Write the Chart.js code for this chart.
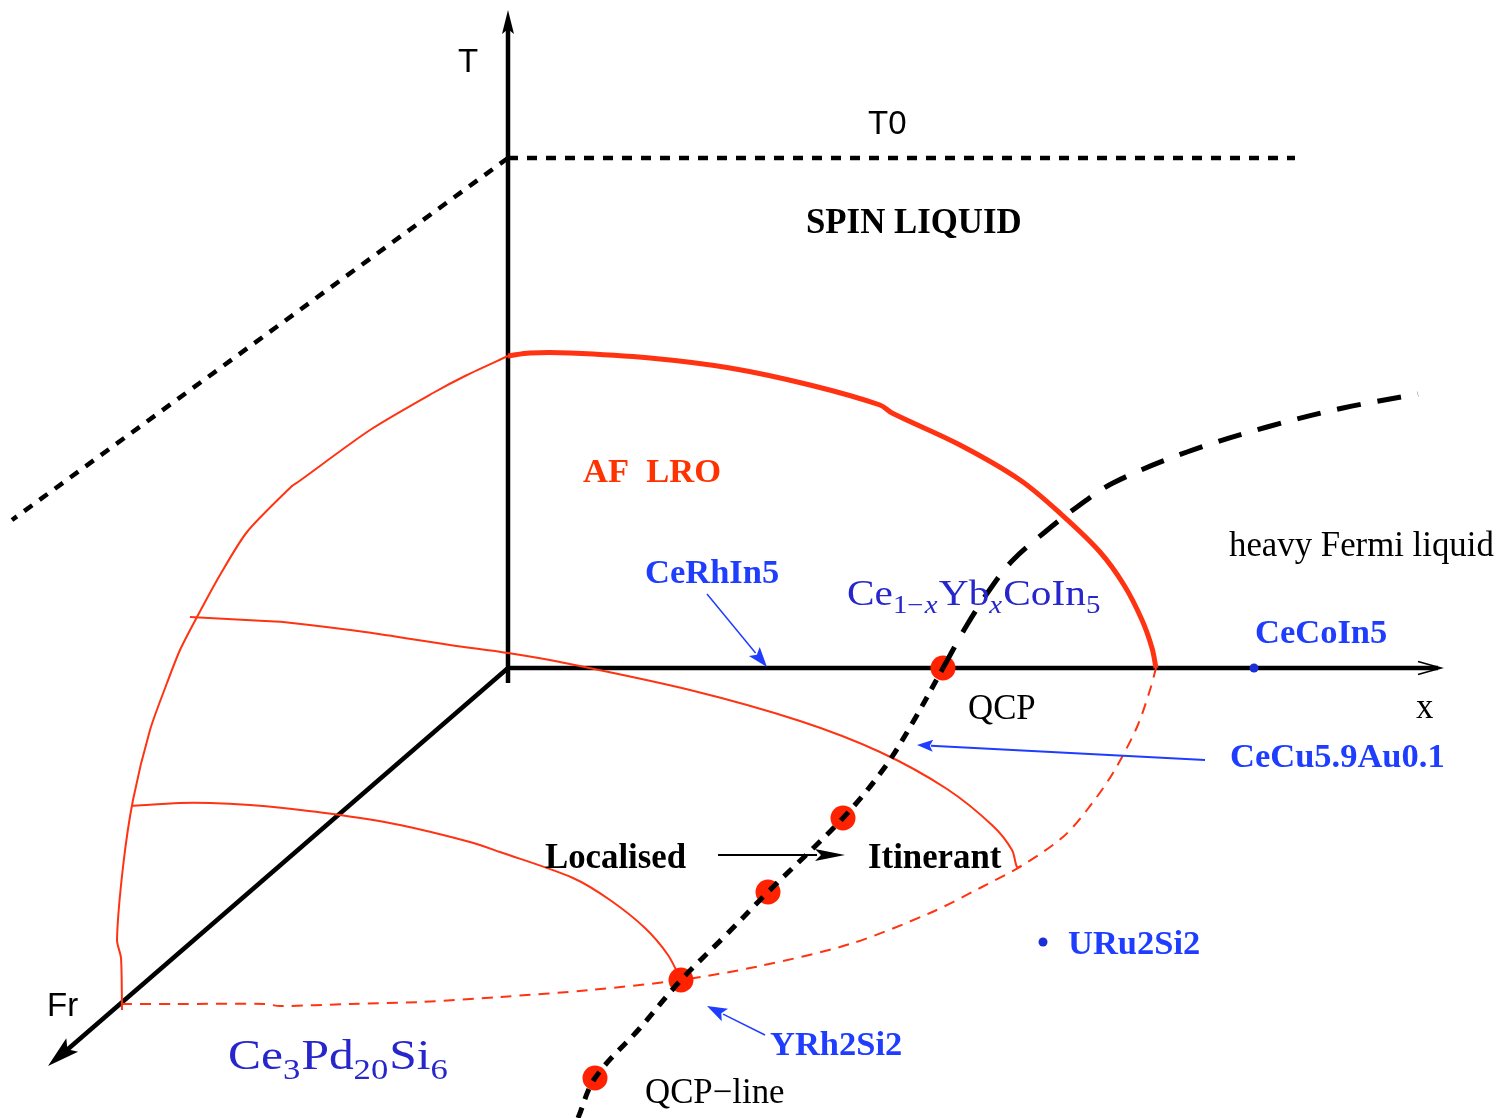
<!DOCTYPE html>
<html>
<head>
<meta charset="utf-8">
<script src="https://cdn.jsdelivr.net/npm/chart.js@4/dist/chart.umd.min.js"></script>
<style>
  html, body { margin: 0; padding: 0; background: #ffffff; }
  canvas { display: block; }
</style>
</head>
<body>
<canvas id="diagram" width="1498" height="1118"></canvas>
<script>
// Schematic plane coordinates: h runs left to right, v runs top to bottom.

// Axes: T (up), x (right), Fr (towards the viewer, lower left)
const axisT  = [[508, 683], [508, 22]];
const axisX  = [[508, 668], [1438, 668]];
const axisFr = [[508, 668], [60, 1056]];

// T0 crossover plane (dotted)
const t0Line     = [[508, 158], [1295, 158]];
const t0Diagonal = [[508, 158], [12, 520]];

// QCP line: below the x axis (fine dashes) and its continuation above it
const qcpLineLower = [[578, 1118], [595, 1078], [640, 1028], [681, 980], [725, 936], [768, 892],
                      [843, 818], [885, 767], [913, 722], [943, 668]];
const qcpLineUpper = [[943, 668], [967, 625], [993, 585], [1013, 560], [1045, 532], [1077, 507],
                      [1113, 483], [1187, 452], [1267, 427], [1343, 408], [1418, 394]];

// Quantum critical points along the QCP line
const qcpPoints = [[943, 668], [843, 818], [768, 892], [681, 980], [595, 1078]];

// AF long-range-order boundary in the T-x plane (heavy line)
const afTopBoundary = [[508, 356], [530, 353], [570, 353], [650, 358], [730, 368], [810, 385],
                       [880, 405], [892, 413], [960, 445], [1020, 480], [1062, 515], [1100, 552],
                       [1124, 585], [1142, 620], [1152, 648], [1156, 668]];

// AF boundary in the T-Fr plane
const afSideBoundary = [[508, 356], [467, 375], [433, 393], [370, 430], [298, 482], [292, 486],
                        [247, 532], [220, 575], [197, 617], [180, 650], [167, 683], [150, 730],
                        [133, 800], [123, 867], [117, 940], [121, 958], [122, 1010]];

// Constant-Fr cuts of the AF dome
const afCutUpper = [[190, 617], [265, 621], [283, 622], [365, 632], [450, 645], [508, 653],
                    [560, 662], [690, 690], [800, 721], [880, 752], [947, 789], [993, 826],
                    [1012, 850], [1017, 867], [1021, 866]];
const afCutLower = [[131, 806], [180, 803], [210, 803], [250, 805], [283, 808], [340, 815],
                    [400, 825], [470, 842], [500, 852], [573, 878], [610, 900], [645, 928],
                    [668, 955], [681, 980]];

// AF boundary at T = 0 in the x-Fr plane (dashed)
const afBaseBoundary = [[121, 1004], [175, 1004], [265, 1004], [280, 1006], [350, 1004],
                        [420, 1002], [500, 997], [590, 990], [681, 980], [760, 966], [850, 944],
                        [930, 913], [980, 888], [1023, 865], [1063, 837], [1087, 810],
                        [1113, 773], [1137, 727], [1150, 690], [1156, 668]];

// Compounds placed as single points
const compoundDots = [[1254, 668], [1043, 942]];

// Pointer arrows: [from, to]
const arrowCeRhIn5  = [[707, 594], [767, 667]];
const arrowCeCuAu   = [[1205, 760], [917, 745]];
const arrowYRh2Si2  = [[765, 1035], [707, 1006]];
const arrowCrossing = [[718, 855], [845, 855]];

// Labels: [text, h, v]
const blueBoldLabels = [
  ['CeRhIn5', 645, 583],
  ['CeCoIn5', 1255, 643],
  ['CeCu5.9Au0.1', 1230, 767],
  ['URu2Si2', 1068, 954],
  ['YRh2Si2', 770, 1055]
];
const blackBoldLabels = [
  ['SPIN LIQUID', 806, 233],
  ['Localised', 545, 868],
  ['Itinerant', 868, 868]
];
const redBoldLabels = [['AF  LRO', 583, 482]];
const serifLabels = [
  ['heavy Fermi liquid', 1229, 556],
  ['QCP', 968, 719],
  ['x', 1416, 718],
  ['QCP\u2212line', 645, 1103]
];
const sansLabels = [
  ['T', 458, 72],
  ['T0', 868, 134],
  ['Fr', 47, 1016]
];
// Chemical formulas with subscripts: pieces of [text, style] (n normal, s subscript, si italic subscript)
const formulaCeYb = [['Ce', 'n'], ['1\u2212', 's'], ['x', 'si'], ['Yb', 'n'], ['x', 'si'], ['CoIn', 'n'], ['5', 's']];
const formulaCePd = [['Ce', 'n'], ['3', 's'], ['Pd', 'n'], ['20', 's'], ['Si', 'n'], ['6', 's']];
// [pieces, h, v, font size, horizontal stretch]
const formulaPlacement = [[formulaCeYb, 847, 605, 35, 1.18], [formulaCePd, 228, 1069, 43, 1.15]];

const RED = '#ff3311';
const BLUE = '#1f3dff';
const DEEP_BLUE = '#2626cc';
const SERIF = '"Liberation Serif", "Times New Roman", serif';
const SANS = '"Liberation Sans", Arial, sans-serif';

const pts = arr => arr.map(([x, y]) => ({ x, y }));

function lineSet(arr, color, width, dash, order, tension) {
  return {
    data: pts(arr),
    showLine: true,
    borderColor: color,
    borderWidth: width,
    borderDash: dash || [],
    borderCapStyle: 'butt',
    pointRadius: 0,
    tension: tension === undefined ? 0.35 : tension,
    fill: false,
    clip: false,
    order: order
  };
}

const datasets = [
  lineSet(qcpLineLower, '#000000', 5, [11, 9], 0),
  lineSet(qcpLineUpper, '#000000', 5, [24, 17], 0),
  {
    data: pts(qcpPoints),
    showLine: false,
    pointRadius: 12.5,
    pointBackgroundColor: '#ff2200',
    pointBorderWidth: 0,
    clip: false,
    order: 1
  },
  {
    data: pts(compoundDots),
    showLine: false,
    pointRadius: 4.5,
    pointBackgroundColor: '#1a2fd6',
    pointBorderWidth: 0,
    clip: false,
    order: 1
  },
  lineSet(afTopBoundary, RED, 5, null, 2),
  lineSet(afSideBoundary, RED, 2, null, 2, 0.25),
  lineSet(afCutUpper, RED, 2, null, 2, 0.3),
  lineSet(afCutLower, RED, 2, null, 2, 0.3),
  lineSet(afBaseBoundary, RED, 2, [11, 8], 2, 0.3),
  lineSet(axisT, '#000000', 4.5, null, 3, 0),
  lineSet(axisX, '#000000', 4.5, null, 3, 0),
  lineSet(axisFr, '#000000', 4.5, null, 3, 0),
  lineSet(t0Line, '#000000', 4.5, [10, 9], 3, 0),
  lineSet(t0Diagonal, '#000000', 4.5, [10, 9], 3, 0)
];

function toPx(chart, [h, v]) {
  return [chart.scales.x.getPixelForValue(h), chart.scales.y.getPixelForValue(v)];
}

function drawArrow(ctx, chart, seg, color, width, headLen, headHalf, drawShaft) {
  const [a, b] = [toPx(chart, seg[0]), toPx(chart, seg[1])];
  const ang = Math.atan2(b[1] - a[1], b[0] - a[0]);
  const ux = Math.cos(ang), uy = Math.sin(ang);
  const bx = b[0] - ux * headLen, by = b[1] - uy * headLen;
  ctx.save();
  ctx.strokeStyle = color;
  ctx.fillStyle = color;
  if (drawShaft) {
    ctx.lineWidth = width;
    ctx.beginPath();
    ctx.moveTo(a[0], a[1]);
    ctx.lineTo(bx + ux * 2, by + uy * 2);
    ctx.stroke();
  }
  ctx.beginPath();
  ctx.moveTo(b[0], b[1]);
  ctx.lineTo(bx - uy * headHalf, by + ux * headHalf);
  ctx.lineTo(b[0] - ux * headLen * 0.8, b[1] - uy * headLen * 0.8);
  ctx.lineTo(bx + uy * headHalf, by - ux * headHalf);
  ctx.closePath();
  ctx.fill();
  ctx.restore();
}

function drawOpenHead(ctx, chart, seg, color, width, headLen, headHalf) {
  const [a, b] = [toPx(chart, seg[0]), toPx(chart, seg[1])];
  const ang = Math.atan2(b[1] - a[1], b[0] - a[0]);
  const ux = Math.cos(ang), uy = Math.sin(ang);
  const bx = b[0] - ux * headLen, by = b[1] - uy * headLen;
  ctx.save();
  ctx.strokeStyle = color;
  ctx.lineWidth = width;
  ctx.beginPath();
  ctx.moveTo(bx - uy * headHalf, by + ux * headHalf);
  ctx.lineTo(b[0], b[1]);
  ctx.lineTo(bx + uy * headHalf, by - ux * headHalf);
  ctx.moveTo(a[0], a[1]);
  ctx.lineTo(b[0], b[1]);
  ctx.stroke();
  ctx.restore();
}

function drawLabels(ctx, chart, list, font, color) {
  ctx.save();
  ctx.font = font;
  ctx.fillStyle = color;
  ctx.textBaseline = 'alphabetic';
  ctx.textAlign = 'left';
  for (const [text, h, v] of list) {
    const [px, py] = toPx(chart, [h, v]);
    ctx.fillText(text, px, py);
  }
  ctx.restore();
}

function drawFormula(ctx, chart, pieces, h, v, size, stretch, color) {
  const [ox, oy] = toPx(chart, [h, v]);
  ctx.save();
  ctx.translate(ox, oy);
  ctx.scale(stretch, 1);
  ctx.fillStyle = color;
  ctx.textBaseline = 'alphabetic';
  let px = 0;
  for (const [text, style] of pieces) {
    const sub = style !== 'n';
    const fs = sub ? size * 0.7 : size;
    ctx.font = (style === 'si' ? 'italic ' : '') + fs + 'px ' + SERIF;
    const dy = sub ? size * 0.24 : 0;
    ctx.fillText(text, px, dy);
    px += ctx.measureText(text).width + (sub ? 1 : 0);
  }
  ctx.restore();
}

const annotations = {
  id: 'annotations',
  afterDatasetsDraw(chart) {
    const ctx = chart.ctx;
    // axis heads
    drawArrow(ctx, chart, [[508, 60], [508, 10]], '#000000', 0, 24, 6, false);
    drawOpenHead(ctx, chart, [[1400, 668], [1441, 668]], '#000000', 1.6, 23, 6.5);
    drawArrow(ctx, chart, [axisFr[0], [48, 1066]], '#000000', 0, 32, 9, false);
    // pointer arrows
    drawArrow(ctx, chart, arrowCeRhIn5, BLUE, 1.5, 20, 7, true);
    drawArrow(ctx, chart, arrowCeCuAu, BLUE, 2, 16, 6, true);
    drawArrow(ctx, chart, arrowYRh2Si2, BLUE, 1.5, 20, 7, true);
    drawArrow(ctx, chart, arrowCrossing, '#000000', 2, 30, 6, true);
    // text
    drawLabels(ctx, chart, blueBoldLabels, 'bold 34.5px ' + SERIF, BLUE);
    drawLabels(ctx, chart, blackBoldLabels, 'bold 34.8px ' + SERIF, '#000000');
    drawLabels(ctx, chart, redBoldLabels, 'bold 34.5px ' + SERIF, '#ff3300');
    drawLabels(ctx, chart, serifLabels, '34.8px ' + SERIF, '#000000');
    drawLabels(ctx, chart, sansLabels, '33px ' + SANS, '#000000');
    for (const [pieces, h, v, size, stretch] of formulaPlacement) {
      drawFormula(ctx, chart, pieces, h, v, size, stretch, DEEP_BLUE);
    }
  }
};

new Chart(document.getElementById('diagram'), {
  type: 'scatter',
  data: { datasets },
  options: {
    responsive: false,
    animation: false,
    layout: { padding: 0, autoPadding: false },
    scales: {
      x: { type: 'linear', min: 0, max: 1498, display: false },
      y: { type: 'linear', min: 0, max: 1118, reverse: true, display: false }
    },
    plugins: {
      legend: { display: false },
      tooltip: { enabled: false }
    },
    events: []
  },
  plugins: [annotations]
});
</script>
</body>
</html>
